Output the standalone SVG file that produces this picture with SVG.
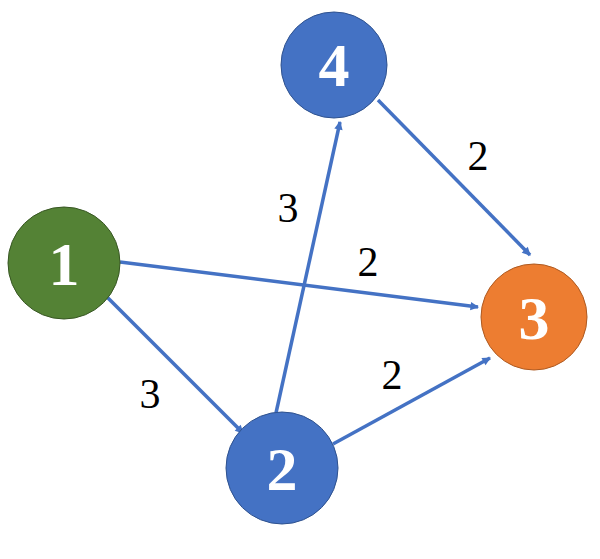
<svg xmlns="http://www.w3.org/2000/svg" width="600" height="559" viewBox="0 0 600 559">
<defs>
<marker id="ah" viewBox="0 0 10 10" refX="9" refY="5" markerWidth="5" markerHeight="5" orient="auto" markerUnits="userSpaceOnUse" style="overflow:visible"><path d="M0,0 L10,5 L0,10 z" fill="#4472C4" transform="scale(1.7) translate(-3.5,-2)"/></marker>
<style>
.e{stroke:#4472C4;stroke-width:3.5;fill:none;marker-end:url(#ah)}
.n{font-family:"Liberation Serif",serif;font-weight:bold;font-size:62px;fill:#fff;text-anchor:middle}
.l{font-family:"Liberation Serif",serif;font-size:42px;fill:#000;text-anchor:middle}
</style>
</defs>
<rect width="600" height="559" fill="#fff"/>
<g id="edges">
<line class="e" x1="120" y1="262" x2="478" y2="307"/>
<line class="e" x1="107" y1="297" x2="243" y2="433"/>
<line class="e" x1="276" y1="413" x2="340" y2="122"/>
<line class="e" x1="378" y1="100" x2="530" y2="255"/>
<line class="e" x1="333" y1="444" x2="490" y2="358"/>
<text class="l" x="478" y="170">2</text>
<text class="l" x="288" y="222">3</text>
<text class="l" x="368" y="276">2</text>
<text class="l" x="150" y="408">3</text>
<text class="l" x="392" y="389">2</text>
</g>
<g id="node4"><circle cx="334" cy="65" r="53" fill="#4472C4" stroke="#2F528F" stroke-width="1"/><text class="n" x="334" y="86">4</text></g>
<g id="node1"><circle cx="64" cy="263" r="56" fill="#548235" stroke="#385723" stroke-width="1"/><text class="n" x="64" y="285">1</text></g>
<g id="node3"><circle cx="534" cy="317" r="53" fill="#ED7D31" stroke="#AE5A21" stroke-width="1"/><text class="n" x="534" y="339">3</text></g>
<g id="node2"><circle cx="282" cy="468" r="56" fill="#4472C4" stroke="#2F528F" stroke-width="1"/><text class="n" x="282" y="490">2</text></g>
</svg>
